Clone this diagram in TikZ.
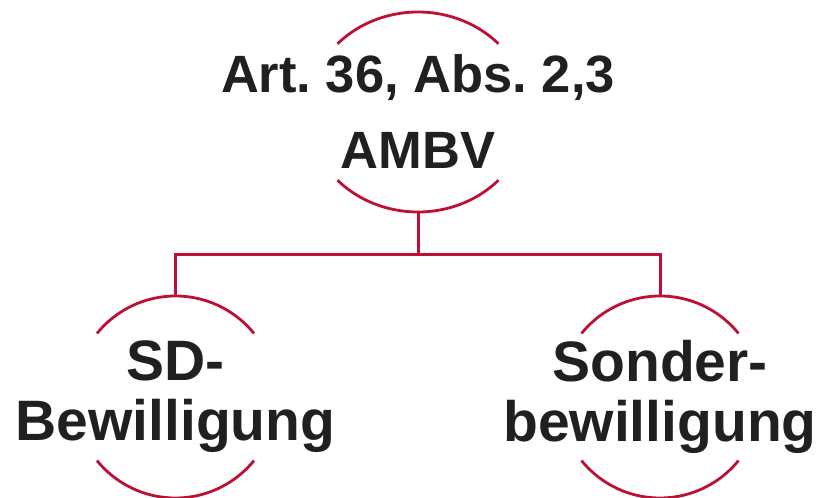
\documentclass[tikz,border=0pt]{standalone}
\usepackage{fontspec}
\setmainfont{Liberation Sans}
\definecolor{arcred}{RGB}{190,16,52}
\definecolor{txt}{RGB}{32,32,32}
\begin{document}
\frenchspacing
\begin{tikzpicture}[x=1pt,y=1pt,
  ring/.style={draw=arcred, line width=2.8pt},
  link/.style={draw=arcred, line width=3pt},
  lbltop/.style={text=txt, font=\bfseries\fontsize{52.5}{76}\selectfont, align=center, inner sep=0pt},
  lblbot/.style={text=txt, font=\bfseries\fontsize{57}{60}\selectfont, align=center, inner sep=0pt}]
\useasboundingbox (0,0) rectangle (823,498);
\coordinate (tc) at (418,386);
\coordinate (lc) at (175.5,101);
\coordinate (rc) at (660,101);
% rings (arcs)
\draw[ring] ([shift={(43:110pt and 100pt)}]tc) arc[start angle=43,end angle=137,x radius=110pt,y radius=100pt];
\draw[ring] ([shift={(223:110pt and 100pt)}]tc) arc[start angle=223,end angle=317,x radius=110pt,y radius=100pt];
\foreach \c in {lc,rc}{
  \draw[ring] ([shift={(39:101pt)}]\c) arc[start angle=39,end angle=141,radius=101pt];
  \draw[ring] ([shift={(219:101pt)}]\c) arc[start angle=219,end angle=321,radius=101pt];
}
% labels
\node[lbltop] (top) at (418,387) {Art. 36, Abs. 2,3\\AMBV};
\node[lblbot] (sd) at (175.5,101) {SD-\\Bewilligung};
\node[lblbot] (sonder) at (660,101) {Sonder-\\bewilligung};
% connectors
\coordinate (topB) at (418,286);
\coordinate (j) at (418,243);
\coordinate (lT) at (175.5,202);
\coordinate (rT) at (660,202);
\draw[link] (topB) -- (j);
\draw[link] (lT) |- (j) -| (rT);
\end{tikzpicture}
\end{document}
